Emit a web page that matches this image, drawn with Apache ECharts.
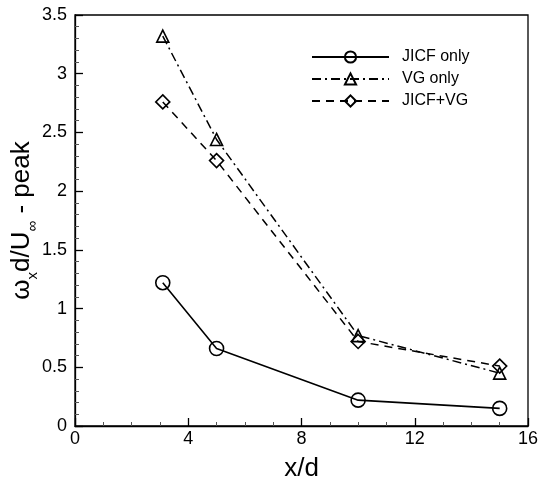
<!DOCTYPE html>
<html>
<head>
<meta charset="utf-8">
<script src="https://cdn.jsdelivr.net/npm/echarts@6/dist/echarts.min.js"></script>
<style>
  html, body { margin: 0; padding: 0; background: #fff; }
  #chart { width: 539px; height: 481px; }
</style>
</head>
<body>
<div id="chart"></div>
<script>
// Streamwise stations and peak vorticity for each configuration
var stations = [3.1, 5, 10, 15];
var jicfOnly = [1.22, 0.66, 0.22, 0.15];
var vgOnly = [3.32, 2.44, 0.77, 0.45];
var jicfVg = [2.76, 2.26, 0.72, 0.51];
var seriesNames = ['JICF only', 'VG only', 'JICF+VG'];
var xTicks = [0, 4, 8, 12, 16];
var yTicks = [0, 0.5, 1, 1.5, 2, 2.5, 3, 3.5];

function pairs(ys) {
  return stations.map(function (x, i) { return [x, ys[i]]; });
}

var FONT = 'Liberation Sans, Arial, sans-serif';
var markerStyle = { color: 'transparent', borderColor: '#000', borderWidth: 1.6 };

var chart = echarts.init(document.getElementById('chart'), null, { renderer: 'canvas' });
chart.setOption({
  animation: false,
  backgroundColor: '#fff',
  grid: {
    left: 75, right: 11, top: 15, bottom: 55,
    outerBoundsMode: 'none', containLabel: false,
    show: true, borderColor: '#000', borderWidth: 1.3, backgroundColor: 'transparent'
  },
  legend: {
    orient: 'vertical',
    left: 311, top: 49, padding: 0,
    itemWidth: 77, itemHeight: 14, itemGap: 6,
    textStyle: { fontFamily: FONT, fontSize: 16, color: '#000', padding: [0, 0, 0, 8] },
    data: seriesNames
  },
  xAxis: {
    type: 'value', min: xTicks[0], max: xTicks[xTicks.length - 1], interval: 4,
    name: 'x/d', nameLocation: 'middle', nameGap: 30, nameMoveOverlap: false,
    nameTextStyle: { fontFamily: FONT, fontSize: 26, color: '#000' },
    axisLine: { lineStyle: { color: '#000', width: 1.3 } },
    axisTick: { inside: true, length: 8, lineStyle: { color: '#000', width: 1.3 } },
    minorTick: { show: true, splitNumber: 4, length: 4, lineStyle: { color: '#555', width: 1 } },
    splitLine: { show: false },
    axisLabel: { fontFamily: FONT, fontSize: 18, color: '#000', margin: 4 }
  },
  yAxis: {
    type: 'value', min: yTicks[0], max: yTicks[yTicks.length - 1], interval: 0.5,
    name: '{b|ω}{s|x}{b|d/U}{s|∞}{b| - peak}',
    nameLocation: 'middle', nameGap: 40, nameRotate: 90, nameMoveOverlap: false,
    nameTextStyle: {
      rich: {
        b: { fontFamily: FONT, fontSize: 26, color: '#000', lineHeight: 30, verticalAlign: 'bottom' },
        s: { fontFamily: FONT, fontSize: 15, color: '#000', lineHeight: 30, verticalAlign: 'bottom', padding: [0, 0, -5, 0] }
      }
    },
    axisLine: { lineStyle: { color: '#000', width: 1.3 } },
    axisTick: { inside: true, length: 8, lineStyle: { color: '#000', width: 1.3 } },
    minorTick: { show: true, splitNumber: 5, length: 4, lineStyle: { color: '#555', width: 1 } },
    splitLine: { show: false },
    axisLabel: { fontFamily: FONT, fontSize: 18, color: '#000', margin: 8 }
  },
  series: [
    {
      name: seriesNames[0], type: 'line', data: pairs(jicfOnly),
      symbol: 'circle', symbolSize: 14,
      lineStyle: { color: '#000', width: 1.6, type: 'solid' },
      itemStyle: markerStyle
    },
    {
      name: seriesNames[1], type: 'line', data: pairs(vgOnly),
      symbol: 'triangle', symbolSize: 12,
      lineStyle: { color: '#000', width: 1.5, type: [9, 4, 2, 4] },
      itemStyle: markerStyle
    },
    {
      name: seriesNames[2], type: 'line', data: pairs(jicfVg),
      symbol: 'diamond', symbolSize: 14,
      lineStyle: { color: '#000', width: 1.5, type: [8, 6] },
      itemStyle: markerStyle
    }
  ]
});
</script>
</body>
</html>
